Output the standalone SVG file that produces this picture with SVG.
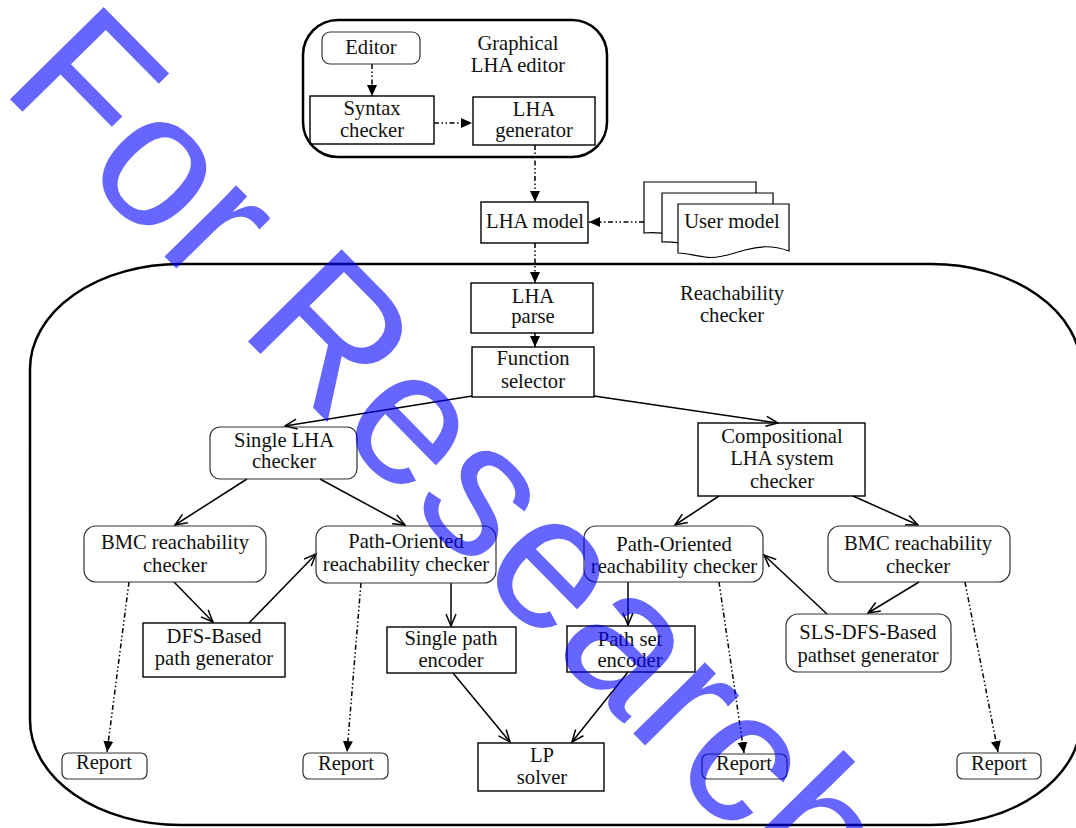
<svg xmlns="http://www.w3.org/2000/svg" width="1076" height="828" viewBox="0 0 1076 828">
<defs>
<marker id="fill" markerUnits="userSpaceOnUse" markerWidth="12" markerHeight="12" viewBox="0 0 12 12" refX="11" refY="6" orient="auto">
<path d="M0,1 L11,6 L0,11 z" fill="#000"/>
</marker>
<marker id="open" markerUnits="userSpaceOnUse" markerWidth="14" markerHeight="14" viewBox="0 0 14 14" refX="13" refY="7" orient="auto">
<path d="M1,2 L13,7 L1,12" fill="none" stroke="#000" stroke-width="1.5"/>
</marker>
<style>
text{font-family:"Liberation Serif","Times New Roman",serif;font-size:20.6px;fill:#111;text-anchor:middle}
.box{fill:none;stroke:#000;stroke-width:1.4}
.rbox{fill:none;stroke:#333;stroke-width:1.2}
.cont{fill:none;stroke:#000;stroke-width:2.5}
.solid{fill:none;stroke:#000;stroke-width:1.5;marker-end:url(#open)}
.dd{fill:none;stroke:#000;stroke-width:1.5;stroke-dasharray:5 2.5 1.5 2.5 1.5 2.5;marker-end:url(#fill)}
.doc{fill:#fff;stroke:#000;stroke-width:1.2}
.wm{font-family:"Liberation Sans",Arial,sans-serif;font-size:191px;fill:#0000ff;fill-opacity:0.6;text-anchor:start}
</style>
</defs>

<g id="containers">
<rect id="graphical-editor" class="cont" x="303" y="20" width="304" height="137" rx="35" ry="35"/>
<rect id="reachability-checker" class="cont" x="30" y="264" width="1051" height="561" rx="150" ry="105"/>
<text x="518" y="50">Graphical</text>
<text x="518" y="72">LHA editor</text>
<text x="732" y="300">Reachability</text>
<text x="732" y="322">checker</text>
</g>

<g id="connectors">
<line class="dd" x1="372" y1="64" x2="372" y2="96"/>
<line class="dd" x1="434" y1="123" x2="472" y2="123"/>
<line class="dd" x1="535" y1="145" x2="535" y2="202"/>
<line class="dd" x1="644" y1="222" x2="589" y2="222"/>
<line class="dd" x1="535" y1="243" x2="535" y2="283"/>
<line fill="none" stroke="#000" stroke-width="1.5" marker-end="url(#fill)" x1="535" y1="333" x2="535" y2="347"/>
<line class="solid" x1="472" y1="396" x2="285" y2="426"/>
<line class="solid" x1="594" y1="396" x2="778" y2="423"/>
<line class="solid" x1="247" y1="479" x2="175" y2="525"/>
<line class="solid" x1="320" y1="479" x2="405" y2="525"/>
<line class="solid" x1="719" y1="496" x2="675" y2="525"/>
<line class="solid" x1="853" y1="496" x2="918" y2="525"/>
<line class="solid" x1="174" y1="582" x2="213" y2="622"/>
<line class="solid" x1="249" y1="623" x2="316" y2="554"/>
<line class="solid" x1="451" y1="583" x2="451" y2="626"/>
<line class="solid" x1="628" y1="582" x2="628" y2="625"/>
<line class="solid" x1="919" y1="582" x2="868" y2="613"/>
<line class="solid" x1="827" y1="614" x2="764" y2="555"/>
<line class="solid" x1="453" y1="673" x2="510" y2="742"/>
<line class="solid" x1="628" y1="672" x2="572" y2="742"/>
<line class="dd" x1="129" y1="582" x2="107" y2="752"/>
<line class="dd" x1="361" y1="583" x2="347" y2="752"/>
<line class="dd" x1="719" y1="582" x2="744" y2="753"/>
<line class="dd" x1="965" y1="582" x2="998" y2="752"/>
</g>

<g id="editor"><rect class="rbox" x="322" y="32" width="98" height="32" rx="8"/><text x="371" y="54">Editor</text></g>
<g id="syntax-checker"><rect class="box" x="310" y="96" width="124" height="48"/><text x="372" y="115">Syntax</text><text x="372" y="137">checker</text></g>
<g id="lha-generator"><rect class="box" x="473" y="97" width="122" height="48"/><text x="534" y="116">LHA</text><text x="534" y="137">generator</text></g>
<g id="lha-model"><rect class="box" x="481" y="202" width="107" height="41"/><text x="535" y="228">LHA model</text></g>
<g id="user-model">
<path class="doc" d="M644,182 H756 V226 C740,222 730,232 712,236 C690,240 665,230 644,233 Z"/>
<path class="doc" d="M662,193 H773 V237 C757,233 747,243 729,247 C707,251 683,240 662,242 Z"/>
<path class="doc" d="M678,204 H789 V251 C772,245 760,246 745,250 C728,255 715,259 705,257 C695,256 686,253 678,253 Z"/>
<text x="732" y="228">User model</text>
</g>
<g id="lha-parse"><rect class="box" x="471" y="283" width="122" height="50"/><text x="533" y="303">LHA</text><text x="533" y="323">parse</text></g>
<g id="function-selector"><rect class="box" x="472" y="347" width="122" height="50"/><text x="533" y="365">Function</text><text x="533" y="388">selector</text></g>
<g id="single-lha-checker"><rect class="rbox" x="210" y="427" width="147" height="52" rx="10"/><text x="284" y="447">Single LHA</text><text x="284" y="468">checker</text></g>
<g id="compositional-checker"><rect class="box" x="698" y="423" width="167" height="73"/><text x="782" y="443">Compositional</text><text x="782" y="465">LHA system</text><text x="782" y="488">checker</text></g>
<g id="bmc-left"><rect class="rbox" x="84" y="526" width="182" height="56" rx="12"/><text x="175" y="549">BMC reachability</text><text x="175" y="572">checker</text></g>
<g id="path-oriented-left"><rect class="rbox" x="316" y="526" width="180" height="57" rx="12"/><text x="406" y="548">Path-Oriented</text><text x="406" y="571">reachability checker</text></g>
<g id="path-oriented-right"><rect class="rbox" x="584" y="526" width="179" height="56" rx="12"/><text x="674" y="551">Path-Oriented</text><text x="674" y="573">reachability checker</text></g>
<g id="bmc-right"><rect class="rbox" x="828" y="526" width="182" height="56" rx="12"/><text x="918" y="550">BMC reachability</text><text x="918" y="573">checker</text></g>
<g id="dfs-generator"><rect class="box" x="143" y="623" width="142" height="54"/><text x="214" y="643">DFS-Based</text><text x="214" y="665">path generator</text></g>
<g id="single-path-encoder"><rect class="box" x="387" y="627" width="129" height="46"/><text x="451" y="645">Single path</text><text x="451" y="667">encoder</text></g>
<g id="path-set-encoder"><rect class="box" x="567" y="626" width="128" height="46"/><text x="630" y="646">Path set</text><text x="630" y="667">encoder</text></g>
<g id="sls-dfs-generator"><rect class="rbox" x="786" y="614" width="165" height="58" rx="12"/><text x="868" y="639">SLS-DFS-Based</text><text x="868" y="662">pathset generator</text></g>
<g id="lp-solver"><rect class="box" x="478" y="743" width="126" height="48"/><text x="542" y="762">LP</text><text x="542" y="784">solver</text></g>
<g id="report-1"><rect class="rbox" x="62" y="753" width="85" height="26" rx="6"/><text x="104" y="769">Report</text></g>
<g id="report-2"><rect class="rbox" x="303" y="753" width="85" height="26" rx="6"/><text x="346" y="770">Report</text></g>
<g id="report-3"><rect class="rbox" x="702" y="754" width="85" height="25" rx="6"/><text x="744" y="770">Report</text></g>
<g id="report-4"><rect class="rbox" x="957" y="753" width="84" height="26" rx="6"/><text x="999" y="770">Report</text></g>

<text class="wm" transform="translate(-1,88) rotate(45.5)">For Research</text>
</svg>
